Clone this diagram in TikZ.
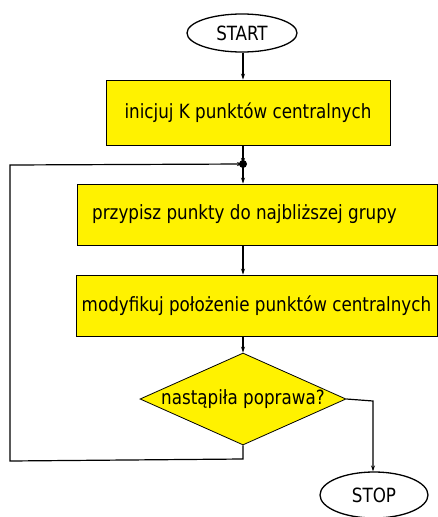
\documentclass[tikz,border=0pt]{standalone}
\usepackage{fontspec}
\setmainfont[FakeStretch=0.95]{DejaVu Sans Condensed}
\usetikzlibrary{shapes.geometric,arrows.meta}

\tikzset{
  terminal/.style={draw, ellipse, line width=1.3pt, inner sep=0pt},
  process/.style={draw, fill=yellow, line width=0.8pt, inner sep=0pt},
  decision/.style={draw, diamond, fill=yellow, line width=0.8pt, inner sep=0pt},
  flow/.style={-{Stealth[length=6pt,width=4pt]}, line width=1.2pt},
  wire/.style={line width=1.2pt}
}

\begin{document}
\begin{tikzpicture}[x=1pt,y=-1pt]
    \useasboundingbox (0,0) rectangle (437,517);
    \fontsize{19.6}{23}\selectfont

    \node[terminal, minimum width=110pt, minimum height=38pt] (start) at (242,33) {START};
    \node[process, minimum width=284pt, minimum height=65pt] (init) at (248,112.5) {inicjuj K punktów centralnych};
    \fill (243,164) circle (4pt);
    \coordinate (join) at (243,164);
    \node[process, minimum width=360pt, minimum height=61pt, anchor=west] (assign) at (77,214.5) {};
    \node[anchor=west, inner sep=0pt] at (92,214.5) {przypisz punkty do najbliższej grupy};
    \node[process, minimum width=361pt, minimum height=61pt] (update) at (256.5,305.5) {modyfikuj położenie punktów centralnych};
    \node[decision, minimum width=206pt, minimum height=92pt,
          label=center:{nastąpiła poprawa?}] (check) at (243,399) {};
    \node[terminal, minimum width=108pt, minimum height=46pt] (stop) at (374,495) {STOP};

    % glowny ciag
    \draw[flow] (start.south -| join) -- (init.north -| join);
    \draw[flow] (init.south -| join) -- (join);
    \draw[flow] (join) -- (assign.north -| join);
    \draw[flow] (assign.south -| join) -- (update.north -| join);
    \draw[flow] (update.south -| join) -- (check.north);

    % petla i wyjscie
    \draw[flow] (check.south) -- (243,459) -- (10,461) -- (10,165) -- (join);
    \draw[flow] (check.east) -- (373,401) -- (stop.north -| 373,0);
\end{tikzpicture}
\end{document}
